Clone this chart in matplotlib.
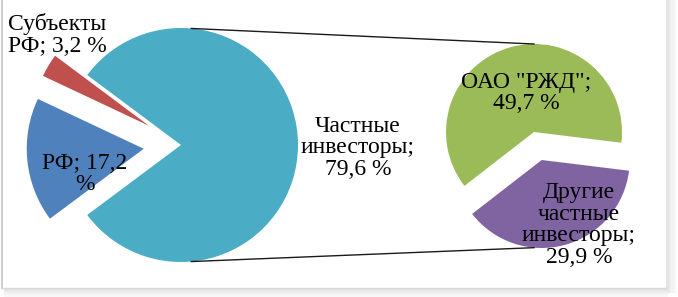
import numpy as np
import matplotlib
matplotlib.use("Agg")
import matplotlib.pyplot as plt
from matplotlib.patches import Rectangle

# main pie: shares of investment sources, %
mainNames = ["Частные инвесторы", "Субъекты РФ", "РФ"]
mainValues = [79.6, 3.2, 17.2]
mainColors = ["#4BACC6", "#C0504D", "#4F81BD"]

# secondary pie: breakdown of private investors, %
subNames = ['ОАО "РЖД"', "Другие частные инвесторы"]
subValues = [49.7, 29.9]
subColors = ["#9BBB59", "#8064A2"]

# label texts, with line breaks as in the picture
def fmt(v):
    return f"{v:.1f}".replace(".", ",") + " %"

mainLabels = ["Частные\nинвесторы;\n" + fmt(mainValues[0]),
              "Субъекты\nРФ; " + fmt(mainValues[1]),
              "РФ; " + fmt(mainValues[2]).replace(" %", "\n%")]
subLabels = ['ОАО "РЖД";\n' + fmt(subValues[0]),
             "Другие\nчастные\nинвесторы;\n" + fmt(subValues[1])]

W, H = 678, 297
fig = plt.figure(figsize=(W / 100, H / 100), dpi=100)
ax = fig.add_axes([0, 0, 1, 1])

# main pie (explode is in data units here)
mainCenter = (181, 152)
mainR = 117
startMain = -mainValues[0] / sum(mainValues) * 360 / 2
wMain, _ = ax.pie(mainValues, colors=mainColors, center=mainCenter, radius=mainR,
                  startangle=startMain, counterclock=True,
                  explode=[0, 0.32 * mainR, 0.32 * mainR], wedgeprops=dict(linewidth=0))

# secondary pie
subCenter = (534, 165)
subR = 88
wSub, _ = ax.pie(subValues, colors=subColors, center=subCenter, radius=subR,
                 startangle=-7, counterclock=True,
                 explode=[0, 0.33 * subR], wedgeprops=dict(linewidth=0))

# connector lines
def edgePoint(wedge, ang):
    cx, cy = wedge.center
    a = np.deg2rad(ang)
    return cx + wedge.r * np.cos(a), cy + wedge.r * np.sin(a)

p1 = edgePoint(wMain[0], 85)
p2 = edgePoint(wSub[0], 90)
p3 = edgePoint(wMain[0], -85)
p4 = edgePoint(wSub[1], -95)
ax.plot([p1[0], p2[0]], [p1[1], p2[1]], color="#1a1a1a", lw=1.0)
ax.plot([p3[0], p4[0]], [p3[1], p4[1]], color="#1a1a1a", lw=1.0)

# labels
font = dict(family="Liberation Serif", fontsize=17, color="black",
            ha="center", va="center", linespacing=1.05)
ax.text(358, H - 148, mainLabels[0], **font)
ax.text(57, H - 35, mainLabels[1], **font)
ax.text(85, H - 174, mainLabels[2], **font)
ax.text(526, H - 93, subLabels[0], **font)
ax.text(579, H - 225, subLabels[1], **font)

# chart frame with light shadow
ax.plot([2, 2], [9, H], color="#cfcfcf", lw=1.5)
ax.plot([2, 666], [9, 9], color="#d8d8d8", lw=1.0)
for i, c in enumerate(["#e4e4e4", "#ececec", "#f3f3f3", "#f8f8f8"]):
    ax.add_patch(Rectangle((666 + i * 2.5, 4), 2.5, H - 4, color=c, lw=0))
    ax.add_patch(Rectangle((4, 8 - (i + 1) * 2), 664, 2, color=c, lw=0))

ax.set_xlim(0, W)
ax.set_ylim(0, H)
ax.set_aspect("equal")
ax.axis("off")

fig.savefig("out.png", dpi=100, facecolor="white")
